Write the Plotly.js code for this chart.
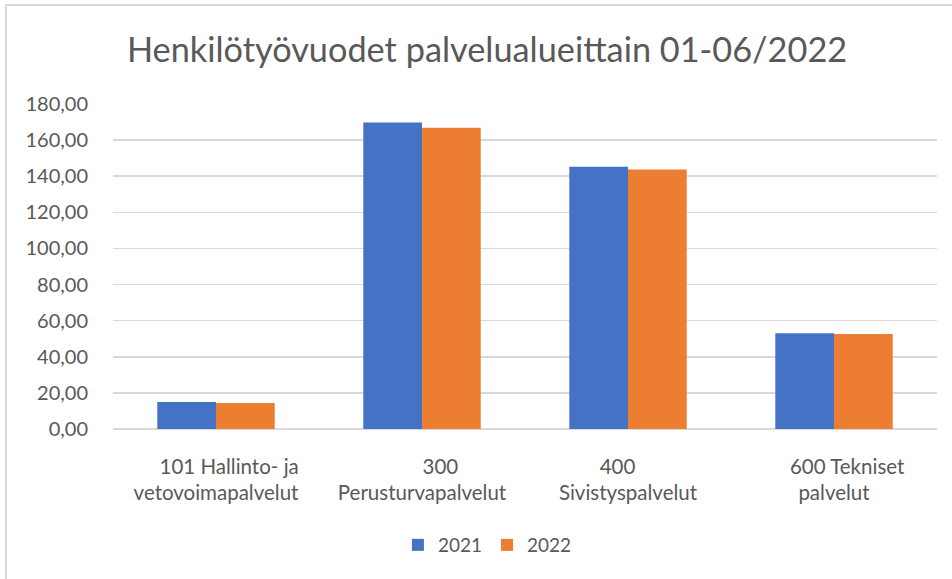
<!DOCTYPE html>
<html>
<head>
<meta charset="utf-8">
<script src="https://cdn.plot.ly/plotly-3.0.1.min.js"></script>
<style>
  html, body { margin: 0; padding: 0; background: #fff; overflow: hidden; }
  #chart { width: 952px; height: 579px; }
  #frame { position: absolute; left: 5px; top: 4px; width: 1000px; height: 700px;
           border: 2px solid #d9d9d9; pointer-events: none; box-sizing: border-box; }
</style>
</head>
<body>
<div id="chart"></div>
<div id="frame"></div>
<script>
const categories = [
  "\u00a0\u00a0\u00a0\u00a0\u00a0101 Hallinto- ja<br>vetovoimapalvelut",
  "\u00a0\u00a0\u00a0\u00a0\u00a0\u00a0\u00a0300<br>Perusturvapalvelut",
  "400\u00a0\u00a0\u00a0\u00a0<br>Sivistyspalvelut",
  "\u00a0\u00a0\u00a0\u00a0\u00a0600 Tekniset<br>palvelut"
];
const seriesNames = ["2021", "2022"];
const values2021 = [14.9, 169.8, 145.2, 53.1];
const values2022 = [14.4, 166.9, 143.7, 52.6];
const yTicks = [0, 20, 40, 60, 80, 100, 120, 140, 160, 180];
const yTickLabels = ["0,00", "20,00", "40,00", "60,00", "80,00", "100,00", "120,00", "140,00", "160,00", "180,00"];

const fontFam = "Lato, 'Open Sans', sans-serif";
const txt = "#595959";

const traces = [
  { type: "bar", name: seriesNames[0], x: categories, y: values2021,
    marker: { color: "#4472C4" }, hoverinfo: "skip" },
  { type: "bar", name: seriesNames[1], x: categories, y: values2022,
    marker: { color: "#ED7D31" }, hoverinfo: "skip" }
];

const layout = {
  width: 952, height: 579,
  paper_bgcolor: "#fff", plot_bgcolor: "#fff",
  margin: { l: 113, r: 15, t: 104, b: 149.5 },
  font: { family: fontFam, color: txt },
  title: {
    text: "Henkilötyövuodet palvelualueittain 01-06/2022",
    font: { family: fontFam, size: 34.3, color: txt },
    xref: "container", x: 0.5116, xanchor: "center",
    yref: "container", y: 1 - 50 / 579, yanchor: "middle"
  },
  barmode: "group", bargap: 0.43, bargroupgap: 0,
  xaxis: {
    type: "category",
    showgrid: false, showline: false, zeroline: false,
    ticks: "outside", ticklen: 19, tickcolor: "rgba(0,0,0,0)",
    tickfont: { family: fontFam, size: 20.5, color: txt },
    automargin: false
  },
  yaxis: {
    range: [0, 180],
    tickmode: "array", tickvals: yTicks, ticktext: yTickLabels,
    showgrid: true, gridcolor: "#d9d9d9", gridwidth: 1.5,
    zeroline: true, zerolinecolor: "#d9d9d9", zerolinewidth: 1.5,
    showline: false,
    ticks: "outside", ticklen: 20, tickcolor: "rgba(0,0,0,0)",
    tickfont: { family: fontFam, size: 20, color: txt },
    automargin: false
  },
  showlegend: true,
  legend: {
    orientation: "h",
    xref: "container", x: 0.512, xanchor: "center",
    yref: "container", y: 1 - 545 / 579, yanchor: "middle",
    font: { family: fontFam, size: 19, color: txt },
    itemwidth: 30, traceorder: "normal"
  }
};

Plotly.newPlot("chart", traces, layout, { staticPlot: true, displayModeBar: false });
</script>
</body>
</html>
